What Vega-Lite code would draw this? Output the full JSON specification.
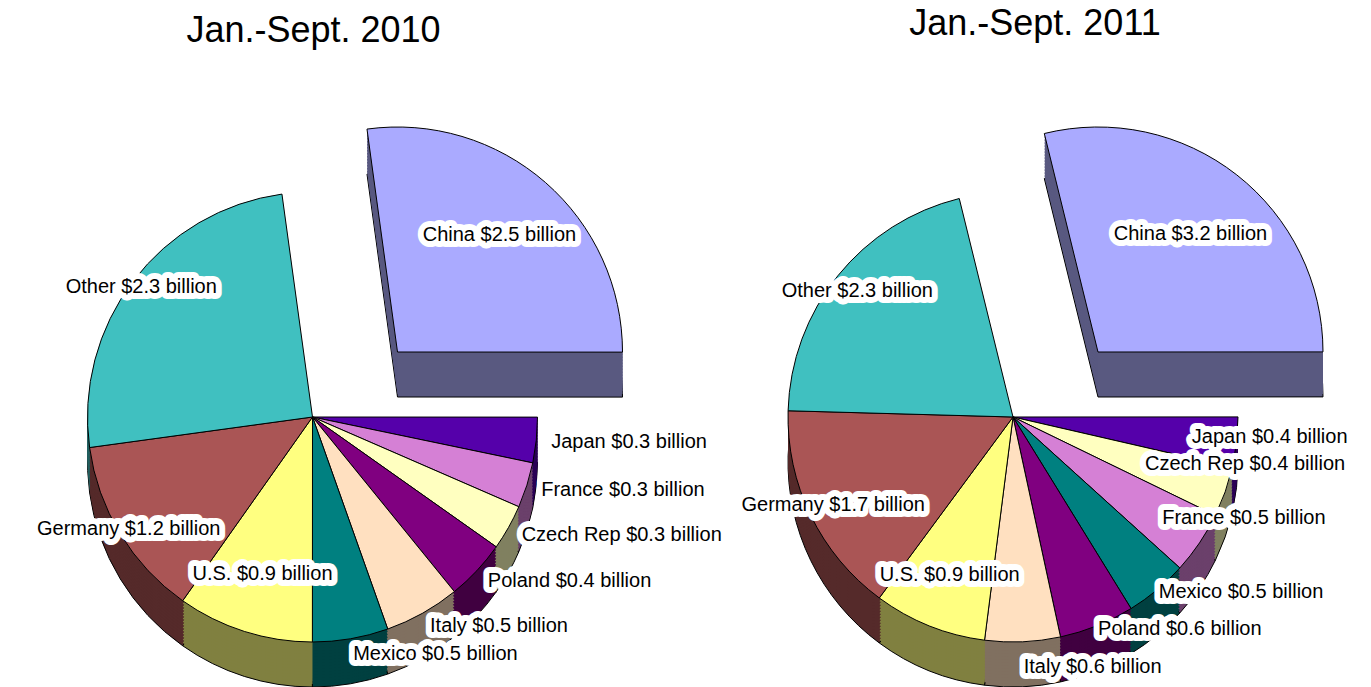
{
  "$schema": "https://vega.github.io/schema/vega-lite/v6.json",
  "padding": {"left": 0, "right": 0, "top": 6, "bottom": 0},
  "spacing": 0,
  "bounds": "flush",
  "background": "white",
  "config": {"view": {"stroke": null}, "font": "Liberation Sans"},
  "datasets": {
    "y2010": [
      {"country": "China", "value": 2.5, "label": "China $2.5 billion"},
      {"country": "Japan", "value": 0.3, "label": "Japan $0.3 billion"},
      {"country": "France", "value": 0.3, "label": "France $0.3 billion"},
      {"country": "Czech Rep", "value": 0.3, "label": "Czech Rep $0.3 billion"},
      {"country": "Poland", "value": 0.4, "label": "Poland $0.4 billion"},
      {"country": "Italy", "value": 0.5, "label": "Italy $0.5 billion"},
      {"country": "Mexico", "value": 0.5, "label": "Mexico $0.5 billion"},
      {"country": "U.S.", "value": 0.9, "label": "U.S. $0.9 billion"},
      {"country": "Germany", "value": 1.2, "label": "Germany $1.2 billion"},
      {"country": "Other", "value": 2.3, "label": "Other $2.3 billion"}
    ],
    "y2011": [
      {"country": "China", "value": 3.2, "label": "China $3.2 billion"},
      {"country": "Japan", "value": 0.4, "label": "Japan $0.4 billion"},
      {"country": "Czech Rep", "value": 0.4, "label": "Czech Rep $0.4 billion"},
      {"country": "France", "value": 0.5, "label": "France $0.5 billion"},
      {"country": "Mexico", "value": 0.5, "label": "Mexico $0.5 billion"},
      {"country": "Poland", "value": 0.6, "label": "Poland $0.6 billion"},
      {"country": "Italy", "value": 0.6, "label": "Italy $0.6 billion"},
      {"country": "U.S.", "value": 0.9, "label": "U.S. $0.9 billion"},
      {"country": "Germany", "value": 1.7, "label": "Germany $1.7 billion"},
      {"country": "Other", "value": 2.3, "label": "Other $2.3 billion"}
    ]
  },
  "hconcat": [
    {
      "width": 685,
      "height": 636,
      "title": {"text": "Jan.-Sept. 2010", "fontSize": 36, "fontWeight": "normal", "font": "Liberation Sans", "color": "black", "dx": -29, "dy": 7, "offset": 2},
      "data": {"name": "y2010"},
      "transform": [{"window": [{"op": "row_number", "as": "i"}]}],
      "encoding": {
        "theta": {"field": "value", "type": "quantitative", "stack": true, "scale": {"range": [-0.136, 6.147]}},
        "order": {"field": "i", "type": "quantitative"}
      },
      "layer": [
        {"mark": {"type": "arc", "radius": 225, "xOffset": -30, "yOffset": 99, "stroke": "black", "strokeWidth": 1},
         "encoding": {"fill": {"field": "country", "type": "nominal", "legend": null, "scale": {"domain": ["China","Japan","France","Czech Rep","Poland","Italy","Mexico","U.S.","Germany","Other"], "range": ["#595980","#2B0055","#6B406B","#808060","#400040","#807060","#004040","#808040","#552A2A","#206060"]}}, "opacity": {"condition": {"test": "datum.country === 'China'", "value": 0}, "value": 1}}},
        {"mark": {"type": "arc", "radius": 225, "xOffset": -30, "yOffset": 96}, "encoding": {"fill": {"field": "country", "type": "nominal", "legend": null}, "opacity": {"condition": {"test": "datum.country === 'China'", "value": 0}, "value": 1}}},
        {"mark": {"type": "arc", "radius": 225, "xOffset": -30, "yOffset": 93}, "encoding": {"fill": {"field": "country", "type": "nominal", "legend": null}, "opacity": {"condition": {"test": "datum.country === 'China'", "value": 0}, "value": 1}}},
        {"mark": {"type": "arc", "radius": 225, "xOffset": -30, "yOffset": 90}, "encoding": {"fill": {"field": "country", "type": "nominal", "legend": null}, "opacity": {"condition": {"test": "datum.country === 'China'", "value": 0}, "value": 1}}},
        {"mark": {"type": "arc", "radius": 225, "xOffset": -30, "yOffset": 87}, "encoding": {"fill": {"field": "country", "type": "nominal", "legend": null}, "opacity": {"condition": {"test": "datum.country === 'China'", "value": 0}, "value": 1}}},
        {"mark": {"type": "arc", "radius": 225, "xOffset": -30, "yOffset": 84}, "encoding": {"fill": {"field": "country", "type": "nominal", "legend": null}, "opacity": {"condition": {"test": "datum.country === 'China'", "value": 0}, "value": 1}}},
        {"mark": {"type": "arc", "radius": 225, "xOffset": -30, "yOffset": 81}, "encoding": {"fill": {"field": "country", "type": "nominal", "legend": null}, "opacity": {"condition": {"test": "datum.country === 'China'", "value": 0}, "value": 1}}},
        {"mark": {"type": "arc", "radius": 225, "xOffset": -30, "yOffset": 78}, "encoding": {"fill": {"field": "country", "type": "nominal", "legend": null}, "opacity": {"condition": {"test": "datum.country === 'China'", "value": 0}, "value": 1}}},
        {"mark": {"type": "arc", "radius": 225, "xOffset": -30, "yOffset": 75}, "encoding": {"fill": {"field": "country", "type": "nominal", "legend": null}, "opacity": {"condition": {"test": "datum.country === 'China'", "value": 0}, "value": 1}}},
        {"mark": {"type": "arc", "radius": 225, "xOffset": -30, "yOffset": 72}, "encoding": {"fill": {"field": "country", "type": "nominal", "legend": null}, "opacity": {"condition": {"test": "datum.country === 'China'", "value": 0}, "value": 1}}},
        {"mark": {"type": "arc", "radius": 225, "xOffset": -30, "yOffset": 69}, "encoding": {"fill": {"field": "country", "type": "nominal", "legend": null}, "opacity": {"condition": {"test": "datum.country === 'China'", "value": 0}, "value": 1}}},
        {"mark": {"type": "arc", "radius": 225, "xOffset": -30, "yOffset": 66}, "encoding": {"fill": {"field": "country", "type": "nominal", "legend": null}, "opacity": {"condition": {"test": "datum.country === 'China'", "value": 0}, "value": 1}}},
        {"mark": {"type": "arc", "radius": 225, "xOffset": -30, "yOffset": 63}, "encoding": {"fill": {"field": "country", "type": "nominal", "legend": null}, "opacity": {"condition": {"test": "datum.country === 'China'", "value": 0}, "value": 1}}},
        {"mark": {"type": "arc", "radius": 225, "xOffset": -30, "yOffset": 60}, "encoding": {"fill": {"field": "country", "type": "nominal", "legend": null}, "opacity": {"condition": {"test": "datum.country === 'China'", "value": 0}, "value": 1}}},
        {"mark": {"type": "arc", "radius": 225, "xOffset": -30, "yOffset": 57}, "encoding": {"fill": {"field": "country", "type": "nominal", "legend": null}, "opacity": {"condition": {"test": "datum.country === 'China'", "value": 0}, "value": 1}}},
        {"mark": {"type": "arc", "radius": 225, "xOffset": 55, "yOffset": 34, "stroke": "black", "strokeWidth": 1}, "encoding": {"fill": {"field": "country", "type": "nominal", "legend": null}, "opacity": {"condition": {"test": "datum.country === 'China'", "value": 1}, "value": 0}}},
        {"mark": {"type": "arc", "radius": 225, "xOffset": 55, "yOffset": 31}, "encoding": {"fill": {"field": "country", "type": "nominal", "legend": null}, "opacity": {"condition": {"test": "datum.country === 'China'", "value": 1}, "value": 0}}},
        {"mark": {"type": "arc", "radius": 225, "xOffset": 55, "yOffset": 28}, "encoding": {"fill": {"field": "country", "type": "nominal", "legend": null}, "opacity": {"condition": {"test": "datum.country === 'China'", "value": 1}, "value": 0}}},
        {"mark": {"type": "arc", "radius": 225, "xOffset": 55, "yOffset": 25}, "encoding": {"fill": {"field": "country", "type": "nominal", "legend": null}, "opacity": {"condition": {"test": "datum.country === 'China'", "value": 1}, "value": 0}}},
        {"mark": {"type": "arc", "radius": 225, "xOffset": 55, "yOffset": 22}, "encoding": {"fill": {"field": "country", "type": "nominal", "legend": null}, "opacity": {"condition": {"test": "datum.country === 'China'", "value": 1}, "value": 0}}},
        {"mark": {"type": "arc", "radius": 225, "xOffset": 55, "yOffset": 19}, "encoding": {"fill": {"field": "country", "type": "nominal", "legend": null}, "opacity": {"condition": {"test": "datum.country === 'China'", "value": 1}, "value": 0}}},
        {"mark": {"type": "arc", "radius": 225, "xOffset": 55, "yOffset": 16}, "encoding": {"fill": {"field": "country", "type": "nominal", "legend": null}, "opacity": {"condition": {"test": "datum.country === 'China'", "value": 1}, "value": 0}}},
        {"mark": {"type": "arc", "radius": 225, "xOffset": 55, "yOffset": 13}, "encoding": {"fill": {"field": "country", "type": "nominal", "legend": null}, "opacity": {"condition": {"test": "datum.country === 'China'", "value": 1}, "value": 0}}},
        {"mark": {"type": "arc", "radius": 225, "xOffset": 55, "yOffset": 10}, "encoding": {"fill": {"field": "country", "type": "nominal", "legend": null}, "opacity": {"condition": {"test": "datum.country === 'China'", "value": 1}, "value": 0}}},
        {"mark": {"type": "arc", "radius": 225, "xOffset": 55, "yOffset": 7}, "encoding": {"fill": {"field": "country", "type": "nominal", "legend": null}, "opacity": {"condition": {"test": "datum.country === 'China'", "value": 1}, "value": 0}}},
        {"mark": {"type": "arc", "radius": 225, "xOffset": 55, "yOffset": 4}, "encoding": {"fill": {"field": "country", "type": "nominal", "legend": null}, "opacity": {"condition": {"test": "datum.country === 'China'", "value": 1}, "value": 0}}},
        {"mark": {"type": "arc", "radius": 225, "xOffset": 55, "yOffset": 1}, "encoding": {"fill": {"field": "country", "type": "nominal", "legend": null}, "opacity": {"condition": {"test": "datum.country === 'China'", "value": 1}, "value": 0}}},
        {"mark": {"type": "arc", "radius": 225, "xOffset": 55, "yOffset": -2}, "encoding": {"fill": {"field": "country", "type": "nominal", "legend": null}, "opacity": {"condition": {"test": "datum.country === 'China'", "value": 1}, "value": 0}}},
        {"mark": {"type": "arc", "radius": 225, "xOffset": 55, "yOffset": -5}, "encoding": {"fill": {"field": "country", "type": "nominal", "legend": null}, "opacity": {"condition": {"test": "datum.country === 'China'", "value": 1}, "value": 0}}},
        {"mark": {"type": "arc", "radius": 225, "xOffset": 55, "yOffset": -8}, "encoding": {"fill": {"field": "country", "type": "nominal", "legend": null}, "opacity": {"condition": {"test": "datum.country === 'China'", "value": 1}, "value": 0}}},
        {"mark": {"type": "arc", "radius": 225, "xOffset": 55, "yOffset": -11, "stroke": "black", "strokeWidth": 1},
         "encoding": {"color": {"field": "country", "type": "nominal", "legend": null, "scale": {"domain": ["China","Japan","France","Czech Rep","Poland","Italy","Mexico","U.S.","Germany","Other"], "range": ["#AAAAFF","#5500AA","#D580D5","#FFFFC0","#800080","#FFE0C0","#008080","#FFFF80","#AA5555","#40C0C0"]}}, "opacity": {"condition": {"test": "datum.country === 'China'", "value": 1}, "value": 0}}},
        {"mark": {"type": "arc", "radius": 225, "xOffset": -30, "yOffset": 54, "stroke": "black", "strokeWidth": 1}, "encoding": {"color": {"field": "country", "type": "nominal", "legend": null}, "opacity": {"condition": {"test": "datum.country === 'China'", "value": 0}, "value": 1}}},
        {"mark": {"type": "text", "radius": 155, "xOffset": 55, "yOffset": -11, "fontSize": 20, "fill": "white", "stroke": "white", "strokeWidth": 12, "strokeJoin": "round"}, "encoding": {"text": {"field": "label"}, "opacity": {"condition": {"test": "datum.country === 'China'", "value": 1}, "value": 0}}},
        {"mark": {"type": "text", "radius": 155, "xOffset": 55, "yOffset": -11, "fontSize": 20, "fill": "black"}, "encoding": {"text": {"field": "label"}, "opacity": {"condition": {"test": "datum.country === 'China'", "value": 1}, "value": 0}}},
        {"mark": {"type": "text", "radius": 215, "xOffset": -30, "yOffset": 54, "fontSize": 20, "fill": "white", "stroke": "white", "strokeWidth": 12, "strokeJoin": "round"}, "encoding": {"text": {"field": "label"}, "opacity": {"condition": {"test": "indexof(['Other','Germany'], datum.country) >= 0", "value": 1}, "value": 0}}},
        {"mark": {"type": "text", "radius": 215, "xOffset": -30, "yOffset": 54, "fontSize": 20, "fill": "black"}, "encoding": {"text": {"field": "label"}, "opacity": {"condition": {"test": "indexof(['Other','Germany'], datum.country) >= 0", "value": 1}, "value": 0}}},
        {"mark": {"type": "text", "radius": 165, "xOffset": -30, "yOffset": 54, "fontSize": 20, "fill": "white", "stroke": "white", "strokeWidth": 12, "strokeJoin": "round"}, "encoding": {"text": {"field": "label"}, "opacity": {"condition": {"test": "datum.country === 'U.S.'", "value": 1}, "value": 0}}},
        {"mark": {"type": "text", "radius": 165, "xOffset": -30, "yOffset": 54, "fontSize": 20, "fill": "black"}, "encoding": {"text": {"field": "label"}, "opacity": {"condition": {"test": "datum.country === 'U.S.'", "value": 1}, "value": 0}}},
        {"mark": {"type": "text", "radius": 240, "align": "left", "xOffset": -30, "yOffset": 54, "fontSize": 20, "fill": "white", "stroke": "white", "strokeWidth": 12, "strokeJoin": "round"}, "encoding": {"text": {"field": "label"}, "opacity": {"condition": {"test": "indexof(['Japan','France','Czech Rep','Poland','Italy','Mexico'], datum.country) >= 0", "value": 1}, "value": 0}}},
        {"mark": {"type": "text", "radius": 240, "align": "left", "xOffset": -30, "yOffset": 54, "fontSize": 20, "fill": "black"}, "encoding": {"text": {"field": "label"}, "opacity": {"condition": {"test": "indexof(['Japan','France','Czech Rep','Poland','Italy','Mexico'], datum.country) >= 0", "value": 1}, "value": 0}}}
      ]
    },
    {
      "width": 686,
      "height": 636,
      "title": {"text": "Jan.-Sept. 2011", "fontSize": 36, "fontWeight": "normal", "font": "Liberation Sans", "color": "black", "dx": 7, "dy": 0, "offset": 2},
      "data": {"name": "y2011"},
      "transform": [{"window": [{"op": "row_number", "as": "i"}]}],
      "encoding": {
        "theta": {"field": "value", "type": "quantitative", "stack": true, "scale": {"range": [-0.241, 6.042]}},
        "order": {"field": "i", "type": "quantitative"}
      },
      "layer": [
        {"mark": {"type": "arc", "radius": 225, "xOffset": -15, "yOffset": 99, "stroke": "black", "strokeWidth": 1},
         "encoding": {"fill": {"field": "country", "type": "nominal", "legend": null, "scale": {"domain": ["China","Japan","France","Czech Rep","Poland","Italy","Mexico","U.S.","Germany","Other"], "range": ["#595980","#2B0055","#6B406B","#808060","#400040","#807060","#004040","#808040","#552A2A","#206060"]}}, "opacity": {"condition": {"test": "datum.country === 'China'", "value": 0}, "value": 1}}},
        {"mark": {"type": "arc", "radius": 225, "xOffset": -15, "yOffset": 96}, "encoding": {"fill": {"field": "country", "type": "nominal", "legend": null}, "opacity": {"condition": {"test": "datum.country === 'China'", "value": 0}, "value": 1}}},
        {"mark": {"type": "arc", "radius": 225, "xOffset": -15, "yOffset": 93}, "encoding": {"fill": {"field": "country", "type": "nominal", "legend": null}, "opacity": {"condition": {"test": "datum.country === 'China'", "value": 0}, "value": 1}}},
        {"mark": {"type": "arc", "radius": 225, "xOffset": -15, "yOffset": 90}, "encoding": {"fill": {"field": "country", "type": "nominal", "legend": null}, "opacity": {"condition": {"test": "datum.country === 'China'", "value": 0}, "value": 1}}},
        {"mark": {"type": "arc", "radius": 225, "xOffset": -15, "yOffset": 87}, "encoding": {"fill": {"field": "country", "type": "nominal", "legend": null}, "opacity": {"condition": {"test": "datum.country === 'China'", "value": 0}, "value": 1}}},
        {"mark": {"type": "arc", "radius": 225, "xOffset": -15, "yOffset": 84}, "encoding": {"fill": {"field": "country", "type": "nominal", "legend": null}, "opacity": {"condition": {"test": "datum.country === 'China'", "value": 0}, "value": 1}}},
        {"mark": {"type": "arc", "radius": 225, "xOffset": -15, "yOffset": 81}, "encoding": {"fill": {"field": "country", "type": "nominal", "legend": null}, "opacity": {"condition": {"test": "datum.country === 'China'", "value": 0}, "value": 1}}},
        {"mark": {"type": "arc", "radius": 225, "xOffset": -15, "yOffset": 78}, "encoding": {"fill": {"field": "country", "type": "nominal", "legend": null}, "opacity": {"condition": {"test": "datum.country === 'China'", "value": 0}, "value": 1}}},
        {"mark": {"type": "arc", "radius": 225, "xOffset": -15, "yOffset": 75}, "encoding": {"fill": {"field": "country", "type": "nominal", "legend": null}, "opacity": {"condition": {"test": "datum.country === 'China'", "value": 0}, "value": 1}}},
        {"mark": {"type": "arc", "radius": 225, "xOffset": -15, "yOffset": 72}, "encoding": {"fill": {"field": "country", "type": "nominal", "legend": null}, "opacity": {"condition": {"test": "datum.country === 'China'", "value": 0}, "value": 1}}},
        {"mark": {"type": "arc", "radius": 225, "xOffset": -15, "yOffset": 69}, "encoding": {"fill": {"field": "country", "type": "nominal", "legend": null}, "opacity": {"condition": {"test": "datum.country === 'China'", "value": 0}, "value": 1}}},
        {"mark": {"type": "arc", "radius": 225, "xOffset": -15, "yOffset": 66}, "encoding": {"fill": {"field": "country", "type": "nominal", "legend": null}, "opacity": {"condition": {"test": "datum.country === 'China'", "value": 0}, "value": 1}}},
        {"mark": {"type": "arc", "radius": 225, "xOffset": -15, "yOffset": 63}, "encoding": {"fill": {"field": "country", "type": "nominal", "legend": null}, "opacity": {"condition": {"test": "datum.country === 'China'", "value": 0}, "value": 1}}},
        {"mark": {"type": "arc", "radius": 225, "xOffset": -15, "yOffset": 60}, "encoding": {"fill": {"field": "country", "type": "nominal", "legend": null}, "opacity": {"condition": {"test": "datum.country === 'China'", "value": 0}, "value": 1}}},
        {"mark": {"type": "arc", "radius": 225, "xOffset": -15, "yOffset": 57}, "encoding": {"fill": {"field": "country", "type": "nominal", "legend": null}, "opacity": {"condition": {"test": "datum.country === 'China'", "value": 0}, "value": 1}}},
        {"mark": {"type": "arc", "radius": 225, "xOffset": 70, "yOffset": 34, "stroke": "black", "strokeWidth": 1}, "encoding": {"fill": {"field": "country", "type": "nominal", "legend": null}, "opacity": {"condition": {"test": "datum.country === 'China'", "value": 1}, "value": 0}}},
        {"mark": {"type": "arc", "radius": 225, "xOffset": 70, "yOffset": 31}, "encoding": {"fill": {"field": "country", "type": "nominal", "legend": null}, "opacity": {"condition": {"test": "datum.country === 'China'", "value": 1}, "value": 0}}},
        {"mark": {"type": "arc", "radius": 225, "xOffset": 70, "yOffset": 28}, "encoding": {"fill": {"field": "country", "type": "nominal", "legend": null}, "opacity": {"condition": {"test": "datum.country === 'China'", "value": 1}, "value": 0}}},
        {"mark": {"type": "arc", "radius": 225, "xOffset": 70, "yOffset": 25}, "encoding": {"fill": {"field": "country", "type": "nominal", "legend": null}, "opacity": {"condition": {"test": "datum.country === 'China'", "value": 1}, "value": 0}}},
        {"mark": {"type": "arc", "radius": 225, "xOffset": 70, "yOffset": 22}, "encoding": {"fill": {"field": "country", "type": "nominal", "legend": null}, "opacity": {"condition": {"test": "datum.country === 'China'", "value": 1}, "value": 0}}},
        {"mark": {"type": "arc", "radius": 225, "xOffset": 70, "yOffset": 19}, "encoding": {"fill": {"field": "country", "type": "nominal", "legend": null}, "opacity": {"condition": {"test": "datum.country === 'China'", "value": 1}, "value": 0}}},
        {"mark": {"type": "arc", "radius": 225, "xOffset": 70, "yOffset": 16}, "encoding": {"fill": {"field": "country", "type": "nominal", "legend": null}, "opacity": {"condition": {"test": "datum.country === 'China'", "value": 1}, "value": 0}}},
        {"mark": {"type": "arc", "radius": 225, "xOffset": 70, "yOffset": 13}, "encoding": {"fill": {"field": "country", "type": "nominal", "legend": null}, "opacity": {"condition": {"test": "datum.country === 'China'", "value": 1}, "value": 0}}},
        {"mark": {"type": "arc", "radius": 225, "xOffset": 70, "yOffset": 10}, "encoding": {"fill": {"field": "country", "type": "nominal", "legend": null}, "opacity": {"condition": {"test": "datum.country === 'China'", "value": 1}, "value": 0}}},
        {"mark": {"type": "arc", "radius": 225, "xOffset": 70, "yOffset": 7}, "encoding": {"fill": {"field": "country", "type": "nominal", "legend": null}, "opacity": {"condition": {"test": "datum.country === 'China'", "value": 1}, "value": 0}}},
        {"mark": {"type": "arc", "radius": 225, "xOffset": 70, "yOffset": 4}, "encoding": {"fill": {"field": "country", "type": "nominal", "legend": null}, "opacity": {"condition": {"test": "datum.country === 'China'", "value": 1}, "value": 0}}},
        {"mark": {"type": "arc", "radius": 225, "xOffset": 70, "yOffset": 1}, "encoding": {"fill": {"field": "country", "type": "nominal", "legend": null}, "opacity": {"condition": {"test": "datum.country === 'China'", "value": 1}, "value": 0}}},
        {"mark": {"type": "arc", "radius": 225, "xOffset": 70, "yOffset": -2}, "encoding": {"fill": {"field": "country", "type": "nominal", "legend": null}, "opacity": {"condition": {"test": "datum.country === 'China'", "value": 1}, "value": 0}}},
        {"mark": {"type": "arc", "radius": 225, "xOffset": 70, "yOffset": -5}, "encoding": {"fill": {"field": "country", "type": "nominal", "legend": null}, "opacity": {"condition": {"test": "datum.country === 'China'", "value": 1}, "value": 0}}},
        {"mark": {"type": "arc", "radius": 225, "xOffset": 70, "yOffset": -8}, "encoding": {"fill": {"field": "country", "type": "nominal", "legend": null}, "opacity": {"condition": {"test": "datum.country === 'China'", "value": 1}, "value": 0}}},
        {"mark": {"type": "arc", "radius": 225, "xOffset": 70, "yOffset": -11, "stroke": "black", "strokeWidth": 1},
         "encoding": {"color": {"field": "country", "type": "nominal", "legend": null, "scale": {"domain": ["China","Japan","France","Czech Rep","Poland","Italy","Mexico","U.S.","Germany","Other"], "range": ["#AAAAFF","#5500AA","#D580D5","#FFFFC0","#800080","#FFE0C0","#008080","#FFFF80","#AA5555","#40C0C0"]}}, "opacity": {"condition": {"test": "datum.country === 'China'", "value": 1}, "value": 0}}},
        {"mark": {"type": "arc", "radius": 225, "xOffset": -15, "yOffset": 54, "stroke": "black", "strokeWidth": 1}, "encoding": {"color": {"field": "country", "type": "nominal", "legend": null}, "opacity": {"condition": {"test": "datum.country === 'China'", "value": 0}, "value": 1}}},
        {"mark": {"type": "text", "radius": 150, "xOffset": 70, "yOffset": -11, "fontSize": 20, "fill": "white", "stroke": "white", "strokeWidth": 12, "strokeJoin": "round"}, "encoding": {"text": {"field": "label"}, "opacity": {"condition": {"test": "datum.country === 'China'", "value": 1}, "value": 0}}},
        {"mark": {"type": "text", "radius": 150, "xOffset": 70, "yOffset": -11, "fontSize": 20, "fill": "black"}, "encoding": {"text": {"field": "label"}, "opacity": {"condition": {"test": "datum.country === 'China'", "value": 1}, "value": 0}}},
        {"mark": {"type": "text", "radius": 200, "xOffset": -15, "yOffset": 54, "fontSize": 20, "fill": "white", "stroke": "white", "strokeWidth": 12, "strokeJoin": "round"}, "encoding": {"text": {"field": "label"}, "opacity": {"condition": {"test": "indexof(['Other','Germany'], datum.country) >= 0", "value": 1}, "value": 0}}},
        {"mark": {"type": "text", "radius": 200, "xOffset": -15, "yOffset": 54, "fontSize": 20, "fill": "black"}, "encoding": {"text": {"field": "label"}, "opacity": {"condition": {"test": "indexof(['Other','Germany'], datum.country) >= 0", "value": 1}, "value": 0}}},
        {"mark": {"type": "text", "radius": 170, "xOffset": -15, "yOffset": 54, "fontSize": 20, "fill": "white", "stroke": "white", "strokeWidth": 12, "strokeJoin": "round"}, "encoding": {"text": {"field": "label"}, "opacity": {"condition": {"test": "datum.country === 'U.S.'", "value": 1}, "value": 0}}},
        {"mark": {"type": "text", "radius": 170, "xOffset": -15, "yOffset": 54, "fontSize": 20, "fill": "black"}, "encoding": {"text": {"field": "label"}, "opacity": {"condition": {"test": "datum.country === 'U.S.'", "value": 1}, "value": 0}}},
        {"mark": {"type": "text", "radius": 180, "align": "left", "xOffset": -15, "yOffset": 54, "fontSize": 20, "fill": "white", "stroke": "white", "strokeWidth": 12, "strokeJoin": "round"}, "encoding": {"text": {"field": "label"}, "opacity": {"condition": {"test": "indexof(['Japan','France'], datum.country) >= 0", "value": 1}, "value": 0}}},
        {"mark": {"type": "text", "radius": 180, "align": "left", "xOffset": -15, "yOffset": 54, "fontSize": 20, "fill": "black"}, "encoding": {"text": {"field": "label"}, "opacity": {"condition": {"test": "indexof(['Japan','France'], datum.country) >= 0", "value": 1}, "value": 0}}},
        {"mark": {"type": "text", "radius": 140, "align": "left", "xOffset": -15, "yOffset": 54, "fontSize": 20, "fill": "white", "stroke": "white", "strokeWidth": 12, "strokeJoin": "round"}, "encoding": {"text": {"field": "label"}, "opacity": {"condition": {"test": "datum.country === 'Czech Rep'", "value": 1}, "value": 0}}},
        {"mark": {"type": "text", "radius": 140, "align": "left", "xOffset": -15, "yOffset": 54, "fontSize": 20, "fill": "black"}, "encoding": {"text": {"field": "label"}, "opacity": {"condition": {"test": "datum.country === 'Czech Rep'", "value": 1}, "value": 0}}},
        {"mark": {"type": "text", "radius": 228, "align": "left", "xOffset": -15, "yOffset": 54, "fontSize": 20, "fill": "white", "stroke": "white", "strokeWidth": 12, "strokeJoin": "round"}, "encoding": {"text": {"field": "label"}, "opacity": {"condition": {"test": "indexof(['Mexico','Poland'], datum.country) >= 0", "value": 1}, "value": 0}}},
        {"mark": {"type": "text", "radius": 228, "align": "left", "xOffset": -15, "yOffset": 54, "fontSize": 20, "fill": "black"}, "encoding": {"text": {"field": "label"}, "opacity": {"condition": {"test": "indexof(['Mexico','Poland'], datum.country) >= 0", "value": 1}, "value": 0}}},
        {"mark": {"type": "text", "radius": 250, "align": "left", "xOffset": -15, "yOffset": 54, "fontSize": 20, "fill": "white", "stroke": "white", "strokeWidth": 12, "strokeJoin": "round"}, "encoding": {"text": {"field": "label"}, "opacity": {"condition": {"test": "datum.country === 'Italy'", "value": 1}, "value": 0}}},
        {"mark": {"type": "text", "radius": 250, "align": "left", "xOffset": -15, "yOffset": 54, "fontSize": 20, "fill": "black"}, "encoding": {"text": {"field": "label"}, "opacity": {"condition": {"test": "datum.country === 'Italy'", "value": 1}, "value": 0}}}
      ]
    }
  ]
}
